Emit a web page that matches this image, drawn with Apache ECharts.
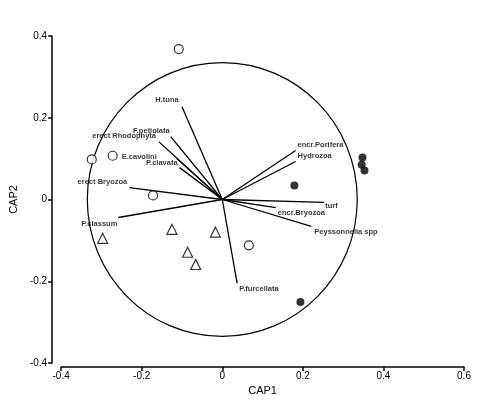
<!DOCTYPE html>
<html><head><meta charset="utf-8">
<script src="https://cdn.jsdelivr.net/npm/echarts@6/dist/echarts.min.js"></script>
<style>html,body{margin:0;padding:0;background:#fff}#c{width:479px;height:405px}</style>
</head><body><div id="c"></div>
<script>
var vectorNames = ["H.tuna","F.petiolata","erect Rhodophyta","E.cavolini","P.clavata","encr.Porifera","Hydrozoa","erect Bryozoa","turf","encr.Bryozoa","Peyssonnelia spp","P.classum","P.furcellata"];
var vectorX = [-0.100,-0.128,-0.157,-0.113,-0.106,0.182,0.182,-0.231,0.253,0.133,0.221,-0.258,0.037];
var vectorY = [0.227,0.154,0.141,0.100,0.078,0.120,0.093,0.029,-0.007,-0.020,-0.066,-0.044,-0.205];
var openX = [-0.108,-0.324,-0.272,-0.172,0.066];
var openY = [0.368,0.098,0.107,0.010,-0.112];
var filledX = [0.179,0.194,0.348,0.346,0.353];
var filledY = [0.034,-0.251,0.103,0.085,0.071];
var triX = [-0.297,-0.125,-0.017,-0.086,-0.066];
var triY = [-0.095,-0.073,-0.080,-0.129,-0.159];
var circleRadius = 0.335;
var xTicks = [-0.4,-0.2,0,0.2,0.4,0.6];
var yTicks = [-0.4,-0.2,0,0.2,0.4];

// label placement [dx, dy, align]
var labelPos = [[-15,-7,'center'],[-1,-6,'right'],[-3,-6,'right'],[-20,-2,'right'],[-2,-5,'right'],[2,-6,'left'],[2,-6,'left'],[-2,-6,'right'],[1,4,'left'],[2,5,'left'],[3,5,'left'],[-1,6,'right'],[2,6,'left']];

function pairs(xs, ys){ return xs.map(function(x,i){return [x, ys[i]];}); }
var lineData = vectorNames.map(function(n,i){ return {coords:[[0,0],[vectorX[i],vectorY[i]]]}; });
var labelData = vectorNames.map(function(n,i){
  var p = labelPos[i];
  return {name:n, value:[vectorX[i],vectorY[i]], label:{show:true, formatter:n, position:[p[0],p[1]], align:p[2], verticalAlign:'middle'}};
});
var chart = echarts.init(document.getElementById('c'));
var fmt = function(v){ return String(Math.round(v*10)/10); };
chart.setOption({
  animation:false,
  grid:{left:55,right:15,top:36,bottom:42},
  xAxis:{type:'value',min:-0.4,max:0.6,interval:0.2,offset:4,name:'CAP1',nameLocation:'middle',nameGap:18,
    nameTextStyle:{fontFamily:'Liberation Sans',fontSize:11,color:'#000'},
    axisLine:{onZero:false,lineStyle:{color:'#000',width:1.5}},axisTick:{length:4,lineStyle:{color:'#000',width:1.5}},
    axisLabel:{formatter:fmt,fontFamily:'Liberation Sans',fontSize:10,color:'#000',margin:4},splitLine:{show:false}},
  yAxis:{type:'value',min:-0.4,max:0.4,interval:0.2,offset:9,name:'CAP2',nameLocation:'middle',nameGap:30,
    nameTextStyle:{fontFamily:'Liberation Sans',fontSize:11,color:'#000'},
    axisLine:{onZero:false,lineStyle:{color:'#000',width:1.5}},axisTick:{length:4,lineStyle:{color:'#000',width:1.5}},
    axisLabel:{formatter:fmt,fontFamily:'Liberation Sans',fontSize:10,color:'#000',margin:5},splitLine:{show:false}},
  series:[
    {type:'lines',coordinateSystem:'cartesian2d',data:lineData,lineStyle:{color:'#000',width:1.3,opacity:1},silent:true,z:3},
    {type:'scatter',data:labelData,symbolSize:0,z:4,
      label:{fontFamily:'Liberation Sans',fontSize:7.5,fontWeight:'bold',color:'#000'}},
    {type:'scatter',data:pairs(openX,openY),symbol:'circle',symbolSize:9,itemStyle:{color:'#fff',borderColor:'#000',borderWidth:1.2},z:5},
    {type:'scatter',data:pairs(filledX,filledY),symbol:'circle',symbolSize:8,itemStyle:{color:'#000'},z:5},
    {type:'scatter',data:pairs(triX,triY),symbol:'triangle',symbolSize:10,itemStyle:{color:'#fff',borderColor:'#000',borderWidth:1.2},z:5}
  ]
});
var c0 = chart.convertToPixel({gridIndex:0},[0,0]);
var cr = chart.convertToPixel({gridIndex:0},[circleRadius,circleRadius]);
chart.setOption({graphic:[{type:'ellipse',shape:{cx:c0[0],cy:c0[1],rx:cr[0]-c0[0],ry:c0[1]-cr[1]},
  style:{fill:'none',stroke:'#000',lineWidth:1.2},z:1}]});
</script></body></html>
